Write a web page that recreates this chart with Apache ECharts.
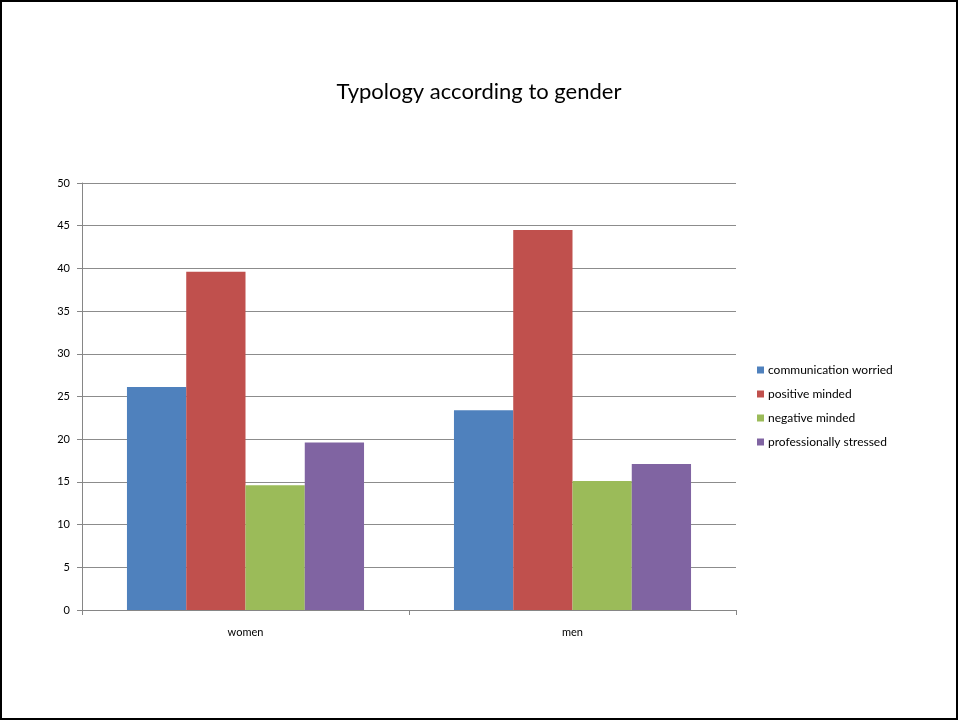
<!DOCTYPE html>
<html>
<head>
<meta charset="utf-8">
<script src="https://cdn.jsdelivr.net/npm/echarts@6/dist/echarts.min.js"></script>
<style>
html,body{margin:0;padding:0;background:#fff;}
#c{width:958px;height:720px;}
</style>
</head>
<body>
<div id="c"></div>
<script>
const categories = ['women', 'men'];
const seriesNames = ['communication worried', 'positive minded', 'negative minded', 'professionally stressed'];
const communicationWorried = [26.1, 23.4];
const positiveMinded = [39.6, 44.5];
const negativeMinded = [14.6, 15.1];
const professionallyStressed = [19.6, 17.1];
const colors = ['#4F81BD', '#C0504D', '#9BBB59', '#8064A2'];
const yTicks = { min: 0, max: 50, interval: 5 };

const values = [communicationWorried, positiveMinded, negativeMinded, professionallyStressed];
const font = 'Lato, "Open Sans", "Liberation Sans", sans-serif';

const chart = echarts.init(document.getElementById('c'), null, { renderer: 'canvas' });
chart.setOption({
  backgroundColor: '#fff',
  animation: false,
  title: {
    text: 'Typology according to gender',
    left: 'center',
    top: 76,
    textStyle: { fontFamily: font, fontSize: 22, fontWeight: 'normal', color: '#000' }
  },
  graphic: [{
    type: 'rect',
    shape: { x: 1, y: 1, width: 956, height: 718 },
    style: { fill: 'none', stroke: '#000', lineWidth: 2 },
    silent: true
  }],
  legend: {
    orient: 'vertical',
    left: 752,
    top: 358,
    itemWidth: 7,
    itemHeight: 7,
    itemGap: 10,
    icon: 'rect',
    data: seriesNames,
    textStyle: { fontFamily: font, fontSize: 12, color: '#000', lineHeight: 14, padding: [0, 0, 0, -1] }
  },
  grid: { left: 82, right: 222, top: 183, bottom: 110, containLabel: false },
  xAxis: {
    type: 'category',
    data: categories,
    axisLine: { lineStyle: { color: '#868686', width: 1 } },
    axisTick: { show: true, length: 5, lineStyle: { color: '#868686' } },
    axisLabel: { fontFamily: font, fontSize: 11, color: '#000', margin: 17 },
    splitLine: { show: false }
  },
  yAxis: {
    type: 'value',
    min: yTicks.min,
    max: yTicks.max,
    interval: yTicks.interval,
    axisLine: { show: true, lineStyle: { color: '#868686', width: 1 } },
    axisTick: { show: true, length: 5, lineStyle: { color: '#868686' } },
    axisLabel: { fontFamily: font, fontSize: 11, color: '#000', margin: 12 },
    splitLine: { show: true, lineStyle: { color: '#8c8c8c', width: 1 } }
  },
  series: seriesNames.map((name, i) => ({
    name: name,
    type: 'bar',
    data: values[i],
    barGap: '0%',
    barCategoryGap: '27.5%',
    itemStyle: { color: colors[i] }
  }))
});
</script>
</body>
</html>
